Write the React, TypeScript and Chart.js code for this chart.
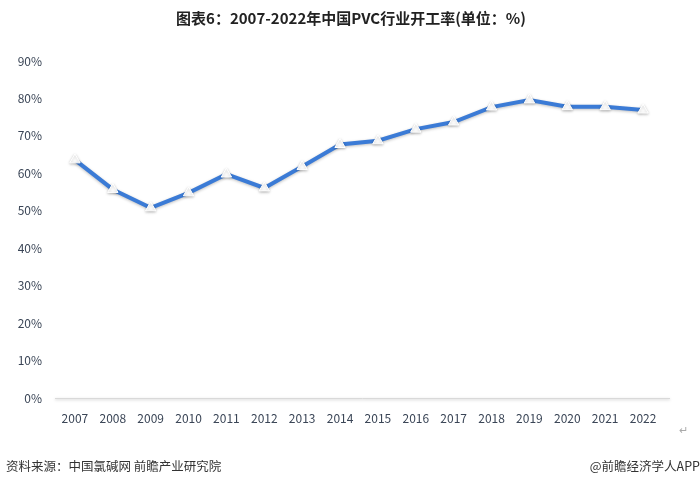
import React, { useEffect, useRef } from "react";
import { Chart, registerables } from "chart.js";

Chart.register(...registerables);

const years = ["2007","2008","2009","2010","2011","2012","2013","2014","2015","2016","2017","2018","2019","2020","2021","2022"];
const rates = [63.6, 55.7, 50.8, 54.8, 59.8, 56.1, 61.8, 67.7, 68.7, 71.8, 73.7, 77.7, 79.6, 77.8, 77.8, 76.9];
const yTicks = [0, 10, 20, 30, 40, 50, 60, 70, 80, 90];
const titleText = "图表6：2007-2022年中国PVC行业开工率(单位：%)";
const sourceText = "资料来源：中国氯碱网 前瞻产业研究院";
const brandText = "@前瞻经济学人APP";

const FONT = "'Noto Sans CJK SC', 'Noto Sans', sans-serif";

const textPlugin = {
  id: "texts",
  beforeDatasetsDraw(chart: any) {
    const ctx = chart.ctx;
    const { left, bottom } = chart.chartArea;
    ctx.save();
    ctx.strokeStyle = "#d9d9d9";
    ctx.lineWidth = 1;
    ctx.beginPath();
    ctx.moveTo(left - 1, Math.round(bottom) + 0.5);
    ctx.lineTo(670, Math.round(bottom) + 0.5);
    ctx.stroke();
    ctx.restore();
  },
  afterDraw(chart: any) {
    const ctx = chart.ctx;
    ctx.save();
    ctx.fillStyle = "#222";
    ctx.font = `bold 15px ${FONT}`;
    ctx.textAlign = "center";
    ctx.textBaseline = "middle";
    ctx.fillText(titleText, 351, 18);
    ctx.font = `12.5px ${FONT}`;
    ctx.fillStyle = "#333";
    ctx.textAlign = "left";
    ctx.fillText(sourceText, 6, 466);
    ctx.textAlign = "right";
    ctx.fillText(brandText, 700, 466);
    ctx.fillStyle = "#aaa";
    ctx.font = `11px ${FONT}`;
    ctx.textAlign = "center";
    ctx.fillText("↵", 683, 430);
    ctx.restore();
  },
};

const shadowPlugin = {
  id: "shadow",
  beforeDatasetsDraw(chart: any) {
    const ctx = chart.ctx;
    ctx.save();
    ctx.shadowColor = "rgba(0,0,0,0.25)";
    ctx.shadowBlur = 3;
    ctx.shadowOffsetY = 1;
  },
  afterDatasetsDraw(chart: any) {
    chart.ctx.restore();
  },
};

export default function App() {
  const ref = useRef<HTMLCanvasElement>(null);
  useEffect(() => {
    document.body.style.margin = "0";
    const chart = new Chart(ref.current!, {
      type: "line",
      data: {
        labels: years,
        datasets: [
          {
            data: rates,
            borderColor: "#3b7bd6",
            borderWidth: 4,
            pointStyle: "triangle",
            pointRadius: 6,
            pointBackgroundColor: "#ffffff",
            pointBorderColor: "#ffffff",
            pointBorderWidth: 1,
            tension: 0,
          },
        ],
      },
      options: {
        animation: false,
        responsive: false,
        devicePixelRatio: 1,
        layout: { padding: { top: 61, right: 38, left: 0, bottom: 0 } },
        plugins: { legend: { display: false }, tooltip: { enabled: false } },
        scales: {
          x: {
            offset: true,
            grid: { display: false, drawTicks: false },
            border: { display: false },
            ticks: { color: "#3a4556", font: { size: 12, family: FONT }, padding: 13, maxRotation: 0, autoSkip: false },
            afterFit(scale: any) { scale.height = 87; },
          },
          y: {
            min: 0,
            max: 90,
            afterBuildTicks(scale: any) { scale.ticks = yTicks.map((v) => ({ value: v })); },
            grid: { display: false, drawTicks: false },
            border: { display: false },
            ticks: {
              color: "#3a4556",
              font: { size: 12, family: FONT },
              padding: 14,
              callback: (v: any) => v + "%",
            },
            afterFit(scale: any) { scale.width = 56; },
          },
        },
      },
      plugins: [shadowPlugin, textPlugin],
    });
    return () => chart.destroy();
  }, []);
  return (
    <div style={{ width: 700, height: 485, background: "#fff" }}>
      <canvas ref={ref} width={700} height={485} />
    </div>
  );
}
